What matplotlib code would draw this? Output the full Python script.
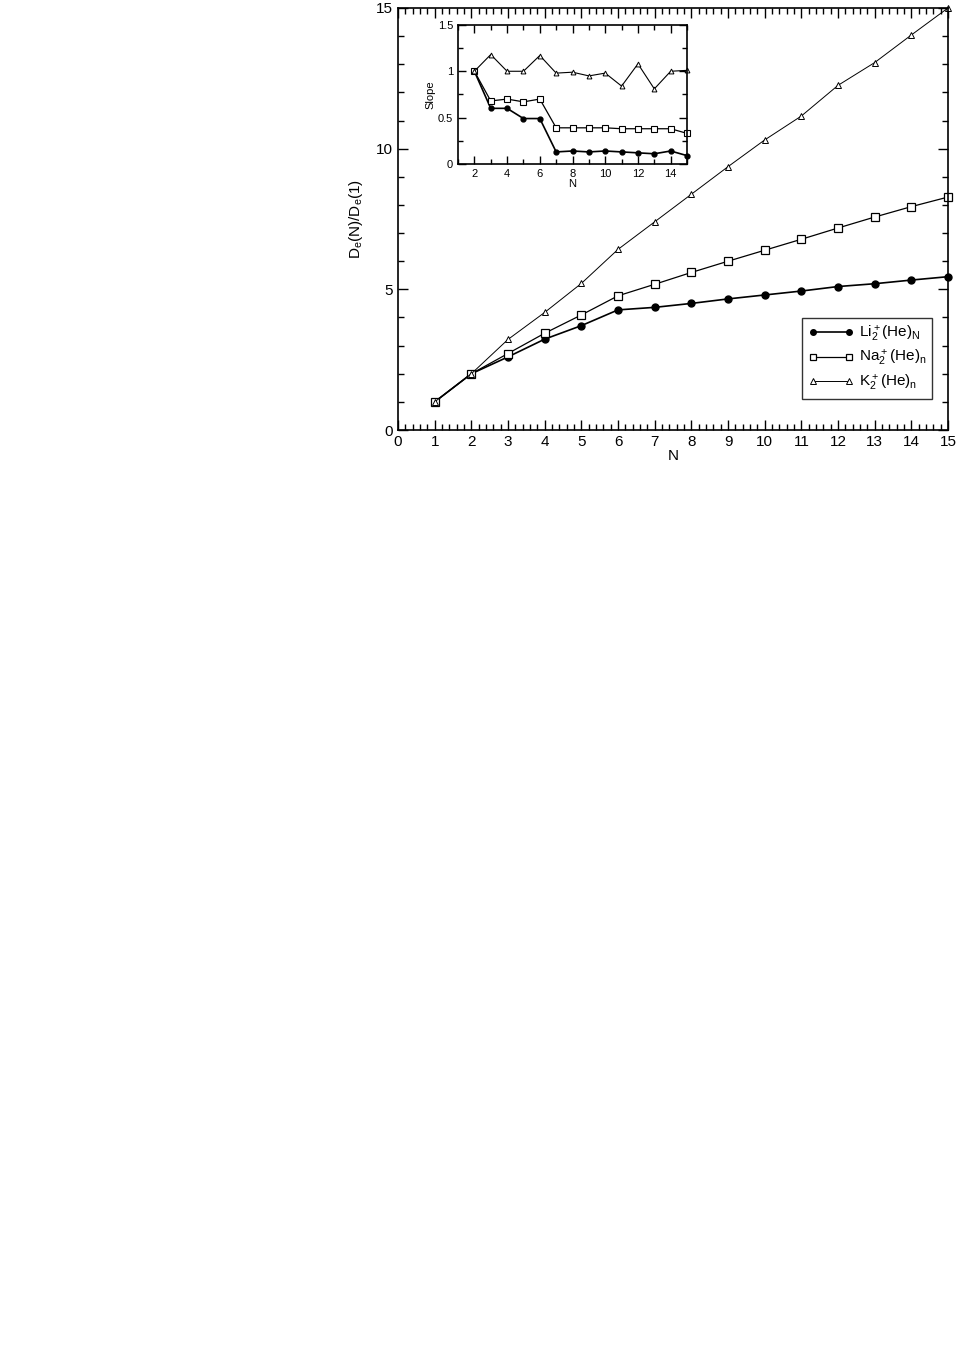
import matplotlib
matplotlib.use("Agg")
import matplotlib.pyplot as plt
from matplotlib.ticker import MultipleLocator

plt.rcParams['font.family'] = ['Liberation Sans', 'DejaVu Sans']
plt.rcParams['mathtext.default'] = 'regular'

N = [1, 2, 3, 4, 5, 6, 7, 8, 9, 10, 11, 12, 13, 14, 15]
li = [1.0, 2.0, 2.6, 3.23, 3.71, 4.27, 4.36, 4.5, 4.66, 4.8, 4.94, 5.1, 5.2, 5.33, 5.45]
na = [1.0, 2.0, 2.72, 3.44, 4.09, 4.77, 5.18, 5.6, 6.0, 6.39, 6.78, 7.18, 7.57, 7.94, 8.28]
k = [1.0, 2.0, 3.22, 4.18, 5.21, 6.42, 7.4, 8.38, 9.36, 10.31, 11.16, 12.25, 13.06, 14.04, 15.0]

# slopes for the inset
Ns = [2, 3, 4, 5, 6, 7, 8, 9, 10, 11, 12, 13, 14, 15]
li_s = [1.0, 0.6, 0.6, 0.49, 0.49, 0.13, 0.14, 0.13, 0.14, 0.13, 0.12, 0.11, 0.14, 0.09]
na_s = [1.0, 0.68, 0.70, 0.67, 0.70, 0.39, 0.39, 0.39, 0.39, 0.38, 0.38, 0.38, 0.38, 0.33]
k_s = [1.0, 1.18, 1.0, 1.0, 1.17, 0.98, 0.99, 0.95, 0.98, 0.84, 1.08, 0.81, 1.0, 1.01]

fig = plt.figure(figsize=(9.57, 13.54), dpi=100)
ax = fig.add_axes([0.4159, 0.6824, 0.5747, 0.3117])

ax.plot(N, li, color='black', lw=1.2, marker='o', ms=5, mfc='black', mec='black',
        clip_on=False, label=r'Li$_2^+$(He)$_N$')
ax.plot(N, na, color='black', lw=0.9, marker='s', ms=6, mfc='white', mec='black', mew=0.9,
        clip_on=False, label=r'Na$_2^+$(He)$_n$')
ax.plot(N, k, color='black', lw=0.7, marker='^', ms=5, mfc='white', mec='black', mew=0.7,
        clip_on=False, label=r'K$_2^+$(He)$_n$')

ax.set_xlim(0, 15)
ax.set_ylim(0, 15)
ax.xaxis.set_major_locator(MultipleLocator(1))
ax.xaxis.set_minor_locator(MultipleLocator(0.2))
ax.yaxis.set_major_locator(MultipleLocator(5))
ax.yaxis.set_minor_locator(MultipleLocator(1))
ax.tick_params(which='both', direction='in', top=True, right=True, labelsize=11, width=1)
ax.tick_params(which='major', length=7)
ax.tick_params(which='minor', length=4)
for s in ax.spines.values():
    s.set_linewidth(1.2)
ax.set_xlabel("N", fontsize=11, labelpad=0)
ax.set_ylabel(r"D$_e$(N)/D$_e$(1)", fontsize=11, labelpad=8)

leg = ax.legend(loc='lower right', bbox_to_anchor=(0.985, 0.055), numpoints=2, fontsize=11,
                frameon=True, fancybox=False, edgecolor='black', handlelength=3,
                handletextpad=0.3, labelspacing=0.3, borderpad=0.4, markerscale=0.8)
leg.get_frame().set_linewidth(1.0)

ins = fig.add_axes([0.4786, 0.8789, 0.2393, 0.1027])
ins.plot(Ns, li_s, color='black', lw=1.2, marker='o', ms=3.5, mfc='black', mec='black', clip_on=False)
ins.plot(Ns, na_s, color='black', lw=0.9, marker='s', ms=4, mfc='white', mec='black', mew=0.8, clip_on=False)
ins.plot(Ns, k_s, color='black', lw=0.8, marker='^', ms=3.5, mfc='white', mec='black', mew=0.7, clip_on=False)
ins.set_xlim(1, 15)
ins.set_ylim(0, 1.5)
ins.xaxis.set_major_locator(MultipleLocator(2))
ins.xaxis.set_minor_locator(MultipleLocator(1))
ins.yaxis.set_minor_locator(MultipleLocator(0.25))
ins.set_yticks([0, 0.5, 1, 1.5])
ins.set_yticklabels(['0', '0.5', '1', '1.5'])
ins.tick_params(which='both', direction='in', top=True, right=True, labelsize=8, width=1)
ins.tick_params(which='major', length=6)
ins.tick_params(which='minor', length=3.5)
for s in ins.spines.values():
    s.set_linewidth(1.2)
ins.set_xlabel("N", fontsize=8, labelpad=0)
ins.set_ylabel("Slope", fontsize=8, labelpad=2)

fig.savefig("out.png", dpi=100)
